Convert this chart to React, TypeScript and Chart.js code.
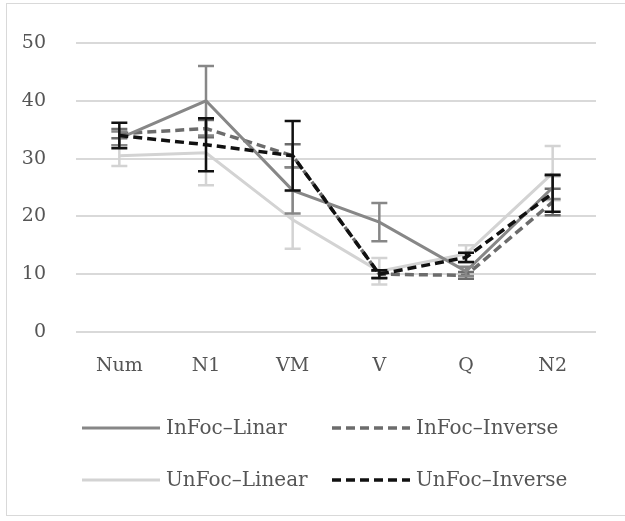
import React, { useEffect, useRef } from "react";
import { Chart, registerables } from "chart.js";

Chart.register(...registerables);

const categories = ["Num", "N1", "VM", "V", "Q", "N2"];

const inFocLinar = [33.5, 40, 24.5, 19, 10.5, 25];
const inFocLinarErr = [1.2, 6, 4, 3.3, 0.8, 2];
const inFocInverse = [34.3, 35.2, 30.5, 10, 9.8, 22.5];
const inFocInverseErr = [0.8, 1.5, 2, 0.6, 0.6, 2.3];
const unFocLinear = [30.5, 31, 19.4, 10.5, 13.5, 27.5];
const unFocLinearErr = [1.8, 5.6, 5, 2.3, 1.5, 4.7];
const unFocInverse = [34, 32.4, 30.5, 10, 12.9, 24];
const unFocInverseErr = [2.2, 4.6, 6, 0.7, 0.8, 3.2];

const seriesNames = ["InFoc\u2013Linar", "InFoc\u2013Inverse", "UnFoc\u2013Linear", "UnFoc\u2013Inverse"];
const yTicks = [0, 10, 20, 30, 40, 50];

const FONT = "'DejaVu Serif', serif";
const TEXT = "#555555";

const errorBarPlugin = {
  id: "errorBars",
  afterDatasetDraw(chart: any, args: any) {
    const ds: any = chart.data.datasets[args.index];
    const errs: number[] | undefined = ds.errors;
    if (!errs) return;
    const y = chart.scales.y;
    const ctx = chart.ctx;
    ctx.save();
    ctx.strokeStyle = ds.borderColor;
    ctx.lineWidth = 2.5;
    ctx.setLineDash([]);
    args.meta.data.forEach((pt: any, i: number) => {
      const v = ds.data[i];
      const e = errs[i];
      const x = pt.x;
      const yt = y.getPixelForValue(v + e);
      const yb = y.getPixelForValue(v - e);
      ctx.beginPath();
      ctx.moveTo(x, yt);
      ctx.lineTo(x, yb);
      ctx.moveTo(x - 8, yt);
      ctx.lineTo(x + 8, yt);
      ctx.moveTo(x - 8, yb);
      ctx.lineTo(x + 8, yb);
      ctx.stroke();
    });
    ctx.restore();
  },
};

const legendPlugin = {
  id: "customLegend",
  afterDraw(chart: any) {
    const ctx = chart.ctx;
    const area = chart.chartArea;
    const cols = [area.left + 6, area.left + 256];
    const rows = [area.bottom + 96, area.bottom + 148];
    ctx.save();
    chart.data.datasets.forEach((ds: any) => {
      const idx = seriesNames.indexOf(ds.label);
      const cx = cols[idx % 2];
      const cy = rows[Math.floor(idx / 2)];
      ctx.strokeStyle = ds.borderColor;
      ctx.lineWidth = ds.borderWidth;
      ctx.setLineDash(ds.borderDash || []);
      ctx.beginPath();
      ctx.moveTo(cx, cy);
      ctx.lineTo(cx + 78, cy);
      ctx.stroke();
      ctx.setLineDash([]);
      ctx.fillStyle = TEXT;
      ctx.font = `20px ${FONT}`;
      ctx.textBaseline = "middle";
      ctx.textAlign = "left";
      ctx.fillText(ds.label, cx + 84, cy + 1);
    });
    ctx.restore();
  },
};

export default function App() {
  const ref = useRef<HTMLCanvasElement>(null);
  useEffect(() => {
    document.body.style.margin = "0";
    const chart = new Chart(ref.current!, {
      type: "line",
      data: {
        labels: categories,
        datasets: [
          {
            label: seriesNames[0],
            data: inFocLinar,
            errors: inFocLinarErr,
            borderColor: "#878787",
            borderWidth: 3,
            pointRadius: 0,
            order: 2,
          } as any,
          {
            label: seriesNames[1],
            data: inFocInverse,
            errors: inFocInverseErr,
            borderColor: "#6c6c6c",
            borderWidth: 3.5,
            borderDash: [9, 5],
            pointRadius: 0,
            order: 3,
          } as any,
          {
            label: seriesNames[2],
            data: unFocLinear,
            errors: unFocLinearErr,
            borderColor: "#d3d3d3",
            borderWidth: 3,
            pointRadius: 0,
            order: 4,
          } as any,
          {
            label: seriesNames[3],
            data: unFocInverse,
            errors: unFocInverseErr,
            borderColor: "#111111",
            borderWidth: 3.5,
            borderDash: [9, 5],
            pointRadius: 0,
            order: 1,
          } as any,
        ],
      },
      options: {
        animation: false,
        responsive: false,
        devicePixelRatio: 1,
        layout: { padding: { left: 0, right: 29, top: 43, bottom: 139 } },
        plugins: { legend: { display: false }, tooltip: { enabled: false } },
        scales: {
          x: {
            offset: true,
            grid: { display: false, drawTicks: false },
            border: { display: false },
            ticks: { color: TEXT, font: { family: FONT, size: 19 }, padding: 23 },
            afterFit: (s: any) => {
              s.height = 50;
            },
          },
          y: {
            min: 0,
            max: 50,
            afterBuildTicks: (s: any) => {
              s.ticks = yTicks.map((v) => ({ value: v }));
            },
            grid: { color: "#d9d9d9", lineWidth: 2, drawTicks: false },
            border: { display: false },
            ticks: { color: TEXT, font: { family: FONT, size: 19 }, padding: 30 },
            afterFit: (s: any) => {
              s.width = 76;
            },
          },
        },
      },
      plugins: [errorBarPlugin, legendPlugin],
    } as any);
    return () => chart.destroy();
  }, []);
  return (
    <div style={{ position: "absolute", left: 0, top: 0, width: 625, height: 521, background: "#fff" }}>
      <div
        style={{
          position: "absolute",
          left: 6,
          top: 3,
          width: 625,
          height: 513,
          border: "1px solid #d9d9d9",
          boxSizing: "border-box",
        }}
      />
      <canvas ref={ref} width={625} height={521} style={{ position: "absolute", left: 0, top: 0 }} />
    </div>
  );
}
